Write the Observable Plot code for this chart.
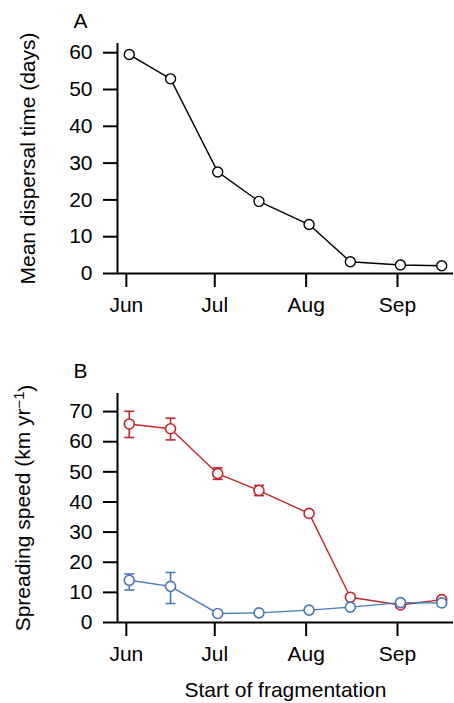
<!DOCTYPE html>
<html>
<head>
<meta charset="utf-8">
<script src="https://cdn.jsdelivr.net/npm/d3@7"></script>
<script src="https://cdn.jsdelivr.net/npm/@observablehq/plot@0.6"></script>
<style>
  html, body { margin: 0; padding: 0; background: white; }
  #chart svg { display: block; }
</style>
</head>
<body>
<div id="chart"></div>
<script>
// ---- data ----
const dates = ["2000-06-02","2000-06-16","2000-07-02","2000-07-16","2000-08-02","2000-08-16","2000-09-02","2000-09-16"];
const dispersal = [59.5, 52.9, 27.6, 19.6, 13.3, 3.2, 2.3, 2.1];
const redSpeed = [65.9, 64.3, 49.4, 43.8, 36.2, 8.4, 5.8, 7.6];
const redLo = [61.4, 60.6, 47.5, 42.1, null, null, null, null];
const redHi = [70.1, 67.8, 51.3, 45.5, null, null, null, null];
const blueSpeed = [14.0, 12.0, 3.0, 3.2, 4.1, 5.1, 6.6, 6.5];
const blueLo = [10.8, 6.3, null, null, null, null, null, null];
const blueHi = [16.1, 16.6, null, null, null, null, null, null];
const tickDates = ["2000-06-01","2000-07-01","2000-08-01","2000-09-01"];
const tickLabels = ["Jun","Jul","Aug","Sep"];
const yTicksA = [0, 10, 20, 30, 40, 50, 60];
const yTicksB = [0, 10, 20, 30, 40, 50, 60, 70];
const xDomain = ["2000-05-29","2000-09-20"];

const toDate = s => new Date(s + "T00:00:00Z");
const ticks = tickDates.map(toDate);
const fmt = d => tickLabels[ticks.findIndex(t => +t === +d)];
const xd = xDomain.map(toDate);

const rowsA = dates.map((d, i) => ({date: toDate(d), v: dispersal[i]}));
const mk = (vals, lo, hi) => dates.map((d, i) => ({date: toDate(d), v: vals[i], lo: lo[i], hi: hi[i]}));
const rowsRed = mk(redSpeed, redLo, redHi);
const rowsBlue = mk(blueSpeed, blueLo, blueHi);

const RED = "#c1272d", BLUE = "#4a78b5";
const FONT = "'Liberation Sans', Arial, Helvetica, sans-serif";
const FS = 21;

const cap = {
  draw(context, size) {
    const r = Math.sqrt(size / Math.PI);
    context.moveTo(-r, 0);
    context.lineTo(r, 0);
  }
};

function axes(label, labelDx, yTicks) {
  return [
    Plot.axisX({ticks, tickFormat: fmt, tickSize: 14, tickPadding: 10, strokeWidth: 2, fontSize: FS, label: null}),
    Plot.axisY({ticks: yTicks, tickSize: 14, tickPadding: 11, strokeWidth: 2, fontSize: FS, label: null}),
    Plot.ruleY([0], {strokeWidth: 2}),
    Plot.ruleX([xd[0]], {strokeWidth: 2}),
    Plot.text([label], {frameAnchor: "left", rotate: -90, textAnchor: "middle", lineAnchor: "middle", dx: labelDx, fontSize: FS})
  ];
}

function errorBars(rows, color) {
  const eb = rows.filter(r => r.lo != null);
  return [
    Plot.ruleX(eb, {x: "date", y1: "lo", y2: "hi", stroke: color, strokeWidth: 1.6}),
    Plot.dot(eb, {x: "date", y: "lo", symbol: cap, r: 5, stroke: color, strokeWidth: 1.6}),
    Plot.dot(eb, {x: "date", y: "hi", symbol: cap, r: 5, stroke: color, strokeWidth: 1.6})
  ];
}

const common = {
  width: 454,
  marginLeft: 117,
  marginRight: 1,
  style: {fontFamily: FONT, fontSize: FS + "px", color: "black", background: "white", overflow: "visible"}
};

const plotA = Plot.plot({
  ...common,
  height: 340,
  marginTop: 43,
  marginBottom: 67,
  x: {type: "utc", domain: xd},
  y: {domain: [0, 62.5]},
  marks: [
    ...axes("Mean dispersal time (days)", -89, yTicksA),
    Plot.line(rowsA, {x: "date", y: "v", stroke: "black", strokeWidth: 1.4}),
    Plot.dot(rowsA, {x: "date", y: "v", r: 5, stroke: "black", fill: "white", strokeWidth: 1.4}),
    Plot.text(["A"], {frameAnchor: "top-left", dx: -37, dy: -22, textAnchor: "middle", lineAnchor: "middle", fontSize: FS})
  ]
});

const plotB = Plot.plot({
  ...common,
  height: 363,
  marginTop: 53,
  marginBottom: 81,
  x: {type: "utc", domain: xd},
  y: {domain: [0, 76]},
  marks: [
    ...axes("Spreading speed (km yr-1)", -94, yTicksB),
    ...errorBars(rowsRed, RED),
    Plot.line(rowsRed, {x: "date", y: "v", stroke: RED, strokeWidth: 1.4}),
    Plot.dot(rowsRed, {x: "date", y: "v", r: 5, stroke: RED, fill: "white", strokeWidth: 1.6}),
    ...errorBars(rowsBlue, BLUE),
    Plot.line(rowsBlue, {x: "date", y: "v", stroke: BLUE, strokeWidth: 1.4}),
    Plot.dot(rowsBlue, {x: "date", y: "v", r: 5, stroke: BLUE, fill: "white", strokeWidth: 1.6}),
    Plot.text(["B"], {frameAnchor: "top-left", dx: -37, dy: -22, textAnchor: "middle", lineAnchor: "middle", fontSize: FS}),
    Plot.text(["Start of fragmentation"], {frameAnchor: "bottom", dy: 68, textAnchor: "middle", lineAnchor: "middle", fontSize: FS})
  ]
});

// superscript for yr^-1
d3.select(plotB).selectAll("text").filter(function() { return this.textContent === "Spreading speed (km yr-1)"; })
  .each(function() {
    const t = d3.select(this);
    t.text(null);
    t.append("tspan").text("Spreading speed (km yr");
    t.append("tspan").attr("dy", "-0.45em").attr("font-size", "0.7em").text("\u22121");
    t.append("tspan").attr("dy", "0.45em").text(")");
  });

document.getElementById("chart").append(plotA, plotB);
</script>
</body>
</html>
